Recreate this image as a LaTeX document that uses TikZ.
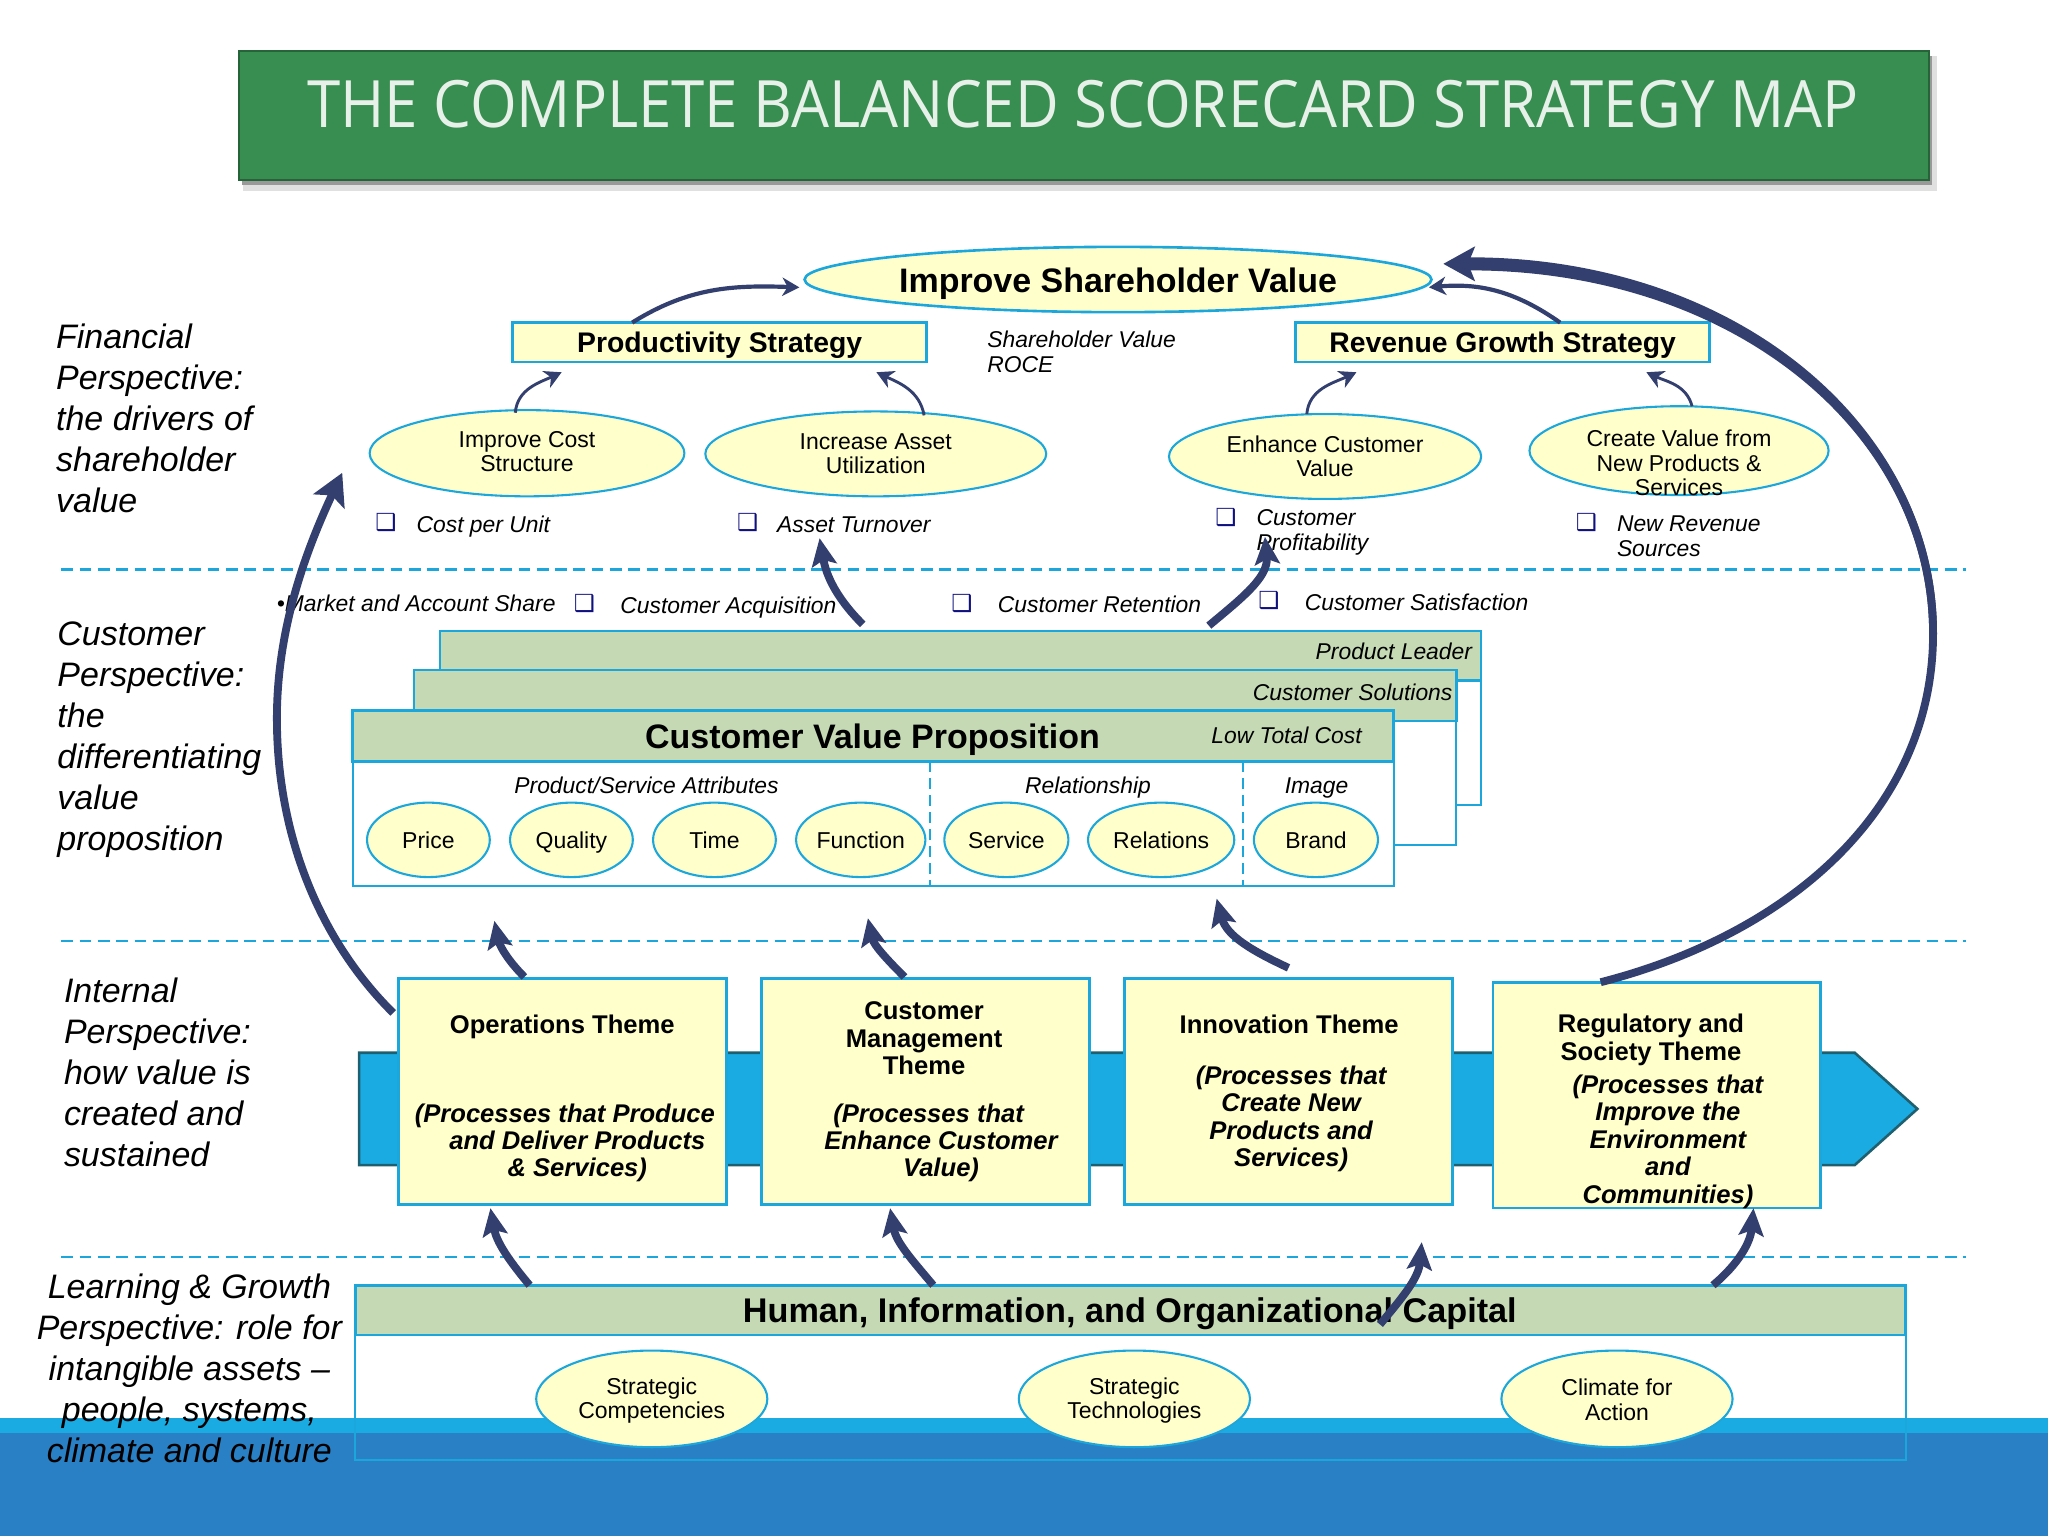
\documentclass[tikz,border=0pt]{standalone}
\usepackage{fontspec}
\setmainfont{Liberation Sans}
\newfontfamily\titlefam{Open Sans}
\newfontfamily\chkfam{DejaVu Sans}
\usetikzlibrary{calc}
\usetikzlibrary{arrows.meta}
\usetikzlibrary{shapes.geometric}
\definecolor{linecyan}{HTML}{1BA7DC}
\definecolor{paleyellow}{HTML}{FFFFCC}
\definecolor{headgreen}{HTML}{C5DAB4}
\definecolor{arrownavy}{HTML}{33406F}
\definecolor{chknavy}{HTML}{10107F}
\definecolor{bandcyan}{HTML}{1BABE3}
\definecolor{deepblue}{HTML}{2A80C4}
\definecolor{titlegreen}{HTML}{388E50}
\definecolor{barteal}{HTML}{1F6070}
\tikzset{
 txt/.style={inner sep=0pt,outer sep=0pt,align=center},
 txtl/.style={inner sep=0pt,outer sep=0pt,align=left,anchor=west},
 persp/.style={txtl,font=\fontsize{26}{31.4}\selectfont\itshape},
 metric/.style={txtl,font=\fontsize{17.5}{19}\selectfont\itshape},
 chk/.style={inner sep=0pt,outer sep=0pt,text=chknavy,font=\chkfam\bfseries\fontsize{18}{18}\selectfont},
 oval/.style={ellipse,draw=linecyan,fill=paleyellow,line width=1.6pt,inner sep=0pt,outer sep=0pt,align=center,font=\fontsize{17.6}{18.6}\selectfont},
 strat/.style={rectangle,draw=linecyan,fill=paleyellow,line width=2pt,inner sep=0pt,outer sep=0pt,minimum width=317pt,minimum height=30pt,text height=16pt,text depth=0pt,font=\fontsize{21.7}{24}\selectfont\bfseries},
 head/.style={rectangle,draw=linecyan,fill=headgreen,line width=2pt,inner sep=0pt,outer sep=0pt},
 body/.style={rectangle,draw=linecyan,fill=white,line width=1.6pt,inner sep=0pt,outer sep=0pt},
 theme/.style={rectangle,draw=linecyan,fill=paleyellow,line width=2pt,inner sep=0pt,outer sep=0pt,minimum width=251pt,minimum height=173pt},
 themetxt/.style={txt,font=\fontsize{19.6}{21}\selectfont\bfseries},
 procstxt/.style={txt,font=\fontsize{19.6}{21}\selectfont\bfseries\itshape},
 divide/.style={draw=linecyan,line width=2pt,dash pattern=on 9pt off 5pt},
 thinarrow/.style={draw=arrownavy,line width=2.2pt,-{Stealth[length=13pt,width=14pt,inset=4pt]}},
 medarrow/.style={draw=arrownavy,line width=6pt,-{Stealth[length=21pt,width=19pt,inset=4pt]}},
 bigarrow/.style={draw=arrownavy,line width=6pt,-{Stealth[length=24pt,width=26pt,inset=5pt]}}
}
\begin{document}
\begin{tikzpicture}[x=1pt,y=-1pt]
 \useasboundingbox (0,0) rectangle (1568,1176);
 \fill[white] (0,0) rectangle (1568,1176);
 %
 \fill[black!12] (186,43) rectangle (1483,146);
 \fill[black!40] (185,43) rectangle (1479,142);
 \node[rectangle,draw=titlegreen!70!black,fill=titlegreen,line width=1.5pt,inner sep=0pt,minimum width=1294pt,minimum height=99pt] (titlebar) at (830,88.5) {};
 \node[txt,text=white!88!titlegreen,font=\titlefam\fontsize{50}{50}\selectfont] (titletxt) at (829,80) {\scalebox{0.919}[1]{THE COMPLETE BALANCED SCORECARD STRATEGY MAP}};
 %
 \foreach \Y in {436,720.5,962.5}
 {\draw[divide] (47,\Y) -- (1505,\Y);}
 %
 \fill[bandcyan] (0,1086) rectangle (1568,1098);
 \fill[deepblue] (0,1097) rectangle (1568,1176);
 %
 \node[persp] (finance) at (43,320) {Financial\\Perspective:\\the drivers of\\shareholder\\value};
 \node[persp] (customer) at (44,566) {Customer\\Perspective:\\the\\differentiating\\value\\proposition};
 \node[persp] (internal) at (49,821) {Internal\\Perspective:\\how value is\\created and\\sustained};
 \node[txt,font=\fontsize{26}{31.4}\selectfont\itshape] (learning) at (145,1048) {Learning \& Growth\\Perspective: role for\\intangible assets --\\people, systems,\\climate and culture};
 %
 \node[oval,line width=2pt,minimum width=480pt,minimum height=50pt,text height=20pt,text depth=0pt,font=\fontsize{26}{28}\selectfont\bfseries] (share) at (856,214) {Improve Shareholder Value};
 \node[strat] (prodstrat) at (551,262) {Productivity Strategy};
 \node[strat] (revstrat) at (1150.5,262) {Revenue Growth Strategy};
 \node[oval,minimum width=241pt,minimum height=66pt] (cost) at (403.5,347) {Improve Cost\\Structure\rule[-3pt]{0pt}{3pt}};
 \node[oval,minimum width=261pt,minimum height=65pt] (asset) at (670.5,347.5) {Increase Asset\\Utilization};
 \node[oval,minimum width=239pt,minimum height=65pt] (enhance) at (1014.5,349.5) {Enhance Customer\\Value};
 \node[oval,minimum width=229pt,minimum height=68pt] (create) at (1285.5,345) {};
 \node[txt,font=\fontsize{17.6}{18.6}\selectfont] (createtxt) at (1285.5,354.5) {Create Value from\\New Products \&\\Services};
 %
 \foreach \N/\X/\Y/\T in {unit/319/403/Cost per Unit,turn/595/401.5/Asset Turnover,prof/962/407.5/{Customer\\Profitability},rev/1238/410.5/{New Revenue\\Sources},roce/756/269.5/{Shareholder Value\\ROCE},acq/475/465/Customer Acquisition,ret/764/463/Customer Retention,sat/999/461/Customer Satisfaction,mkt/212/462/{•Market and Account Share}}
 {\node[metric] (\N) at (\X,\Y) {\T};}
 \foreach \N/\X/\Y in {unit/295.5/400,turn/572.5/400,prof/938.5/396,rev/1214.5/400,acq/447.5/462,ret/736.5/462,sat/971.5/460}
 {\node[chk] (chk\N) at (\X,\Y) {❑};}
 %
 \node[body,minimum width=797pt,minimum height=133pt] (leaderbody) at (735.5,549.5) {};
 \node[head,minimum width=797pt,minimum height=38pt] (leader) at (735.5,502) {};
 \node[txtl,anchor=east,font=\fontsize{17.5}{19}\selectfont\itshape] (leadertxt) at (1127,499) {Product Leader};
 \node[body,minimum width=798pt,minimum height=134pt] (solbody) at (716,580) {};
 \node[head,minimum width=798pt,minimum height=39pt] (sol) at (716,532.5) {};
 \node[txtl,anchor=east,font=\fontsize{17.5}{19}\selectfont\itshape] (soltxt) at (1112,530) {Customer Solutions};
 \node[body,minimum width=797pt,minimum height=134pt] (costbody) at (668.5,611) {};
 \node[head,minimum width=797pt,minimum height=39pt] (vp) at (668.5,563.5) {};
 \node[txt,font=\fontsize{26}{28}\selectfont\bfseries] (vptxt) at (668,566) {Customer Value Proposition};
 \node[txt,font=\fontsize{17.5}{19}\selectfont\itshape] (lowtxt) at (985,563) {Low Total Cost};
 \draw[linecyan,line width=1.6pt,dash pattern=on 8pt off 5pt] (vp.south -| 712,0) -- (costbody.south -| 712,0);
 \draw[linecyan,line width=1.6pt,dash pattern=on 8pt off 5pt] (vp.south -| 952,0) -- (costbody.south -| 952,0);
 \foreach \N/\X/\T in {attr/495/{Product/Service Attributes},rel/833/Relationship,img/1008/Image}
 {\node[txt,text height=13pt,text depth=4pt,font=\fontsize{17.5}{19}\selectfont\itshape] (\N) at (\X,603) {\T};}
 \foreach \N/\X/\W/\T in {price/328/94/Price,quality/437.5/94/Quality,tim/547/94/Time,func/659/99/Function,serv/770.5/95/Service,relat/889/112/Relations,brand/1007.5/95/Brand}
 {\node[oval,minimum width=\W pt,minimum height=57pt,text height=15pt,text depth=2pt] (\N) at (\X,643) {\T};}
 %
 \draw[draw=barteal,fill=bandcyan,line width=2pt] (275,806) -- (1420,806) -- (1468,849) -- (1420,892) -- (275,892) -- cycle;
 \node[theme] (ops) at (430.5,835.5) {};
 \node[theme] (cust) at (708.5,835.5) {};
 \node[theme] (innov) at (986.5,835.5) {};
 \node[theme] (reg) at (1268.5,838.5) {};
 \node[themetxt] (opstxt) at (430.5,786) {Operations Theme};
 \node[procstxt] (opsproc) at (432.5,875) {(Processes that Produce\\\hspace*{19pt}and Deliver Products\\\hspace*{19pt}\& Services)};
 \node[themetxt] (custtxt) at (707.5,795) {Customer\\Management\\Theme};
 \node[procstxt] (custproc) at (720.5,875) {\hspace*{-19pt}(Processes that\\Enhance Customer\\Value)};
 \node[themetxt] (innovtxt) at (987,784) {Innovation Theme};
 \node[procstxt] (innovproc) at (988.5,856.5) {(Processes that\\Create New\\Products and\\Services)};
 \node[themetxt] (regtxt) at (1264,796) {Regulatory and\\Society Theme};
 \node[procstxt] (regproc) at (1277,874) {(Processes that\\Improve the\\Environment\\and\\Communities)};
 %
 \node[body,minimum width=1187pt,minimum height=134pt,fill=white] (hrbody) at (865.5,1051) {};
 \fill[bandcyan] (hrbody.west |- 0,1086) rectangle (hrbody.east |- 0,1098);
 \fill[deepblue] (hrbody.west |- 0,1097) rectangle (hrbody.east |- 0,1117.5);
 \draw[linecyan,line width=1.6pt] (hrbody.north west) rectangle (hrbody.south east);
 \node[head,minimum width=1187pt,minimum height=38pt] (hr) at (865.5,1003) {};
 \node[txt,font=\fontsize{26.2}{28}\selectfont\bfseries] (hrtxt) at (865,1006) {Human, Information, and Organizational Capital};
 \foreach \N/\X/\T in {comp/499/{\rule{0pt}{15pt}Strategic\\Competencies},tech/868.5/{\rule{0pt}{15pt}Strategic\\Technologies},clim/1238/{\rule{0pt}{14pt}Climate for\\Action}}
 {\node[oval,minimum width=177pt,minimum height=74pt] (\N) at (\X,1071) {\T};}
 %
 \coordinate (fintip) at (262,362);
 \coordinate (leftswing) at (212,550);
 \coordinate (rightswing) at (1480,485);
 %
 \draw[thinarrow,line width=3.2pt] ([xshift=-67pt]prodstrat.north) to[out=32,in=178] ([xshift=-4pt,yshift=-6pt]share.west);
 \draw[thinarrow] ([xshift=-9pt,yshift=-2pt]cost.north) to[out=85,in=205] ([xshift=-121pt,yshift=-8pt]prodstrat.south);
 \draw[thinarrow] ([xshift=37pt,yshift=-3pt]asset.north) to[out=100,in=-25] ([xshift=120pt,yshift=-8pt]prodstrat.south);
 \draw[thinarrow] ([xshift=-14pt]enhance.north) to[out=85,in=205] ([xshift=-112pt,yshift=-8pt]revstrat.south);
 \draw[thinarrow] ([xshift=10pt]create.north) to[out=105,in=-25] ([xshift=110pt,yshift=-8pt]revstrat.south);
 \draw[thinarrow,line width=3.2pt] ([xshift=44pt]revstrat.north) to[out=145,in=5] ([xshift=-2pt,yshift=-6pt]share.east);
 %
 \draw[bigarrow] ([xshift=-43pt]reg.north) .. controls (1370,715) and (1480,620) .. (rightswing) .. controls (1480,330) and (1330,202) .. ([xshift=9pt,yshift=12pt]share.east);
 \fill[arrownavy] (1483,485) .. controls (1483,328) and (1332,197) .. (1125,197) -- (1125,207) .. controls (1328,207) and (1477,332) .. (1477,485) -- cycle;
 \draw[bigarrow] ([xshift=-4pt,yshift=60pt]ops.west) .. controls (245,720) and (212,640) .. (leftswing) .. controls (212,480) and (235,420) .. (fintip);
 %
 \draw[medarrow] ([xshift=-29pt,yshift=1pt]ops.north) to[out=135,in=-78] ([xshift=-52pt,yshift=44pt]ops.north);
 \draw[medarrow] ([xshift=-16pt,yshift=1pt]cust.north) to[out=135,in=-78] ([xshift=-44pt,yshift=46pt]cust.north);
 \draw[medarrow] ([yshift=8pt]innov.north) to[out=155,in=-75] ([xshift=-55pt,yshift=61pt]innov.north);
 \draw[medarrow] ([xshift=-75pt,yshift=5pt]leader.north) to[out=135,in=-80] ([xshift=-43pt,yshift=-32pt]asset.south);
 \draw[medarrow] ([xshift=190pt,yshift=4pt]leader.north) to[out=40,in=-85] ([xshift=-46pt,yshift=-29pt]enhance.south);
 \draw[medarrow] ([xshift=-460pt]hr.north) to[out=130,in=-80] ([xshift=-55pt,yshift=-3pt]ops.south);
 \draw[medarrow] ([xshift=-151pt]hr.north) to[out=130,in=-80] ([xshift=-27pt,yshift=-3pt]cust.south);
 \draw[medarrow] ([xshift=191pt,yshift=-11pt]hr.center) to[out=50,in=-95] ([xshift=102pt,yshift=-29pt]innov.south);
 \draw[medarrow] ([xshift=446pt]hr.north) to[out=40,in=-95] ([xshift=74pt]reg.south);
\end{tikzpicture}
\end{document}
